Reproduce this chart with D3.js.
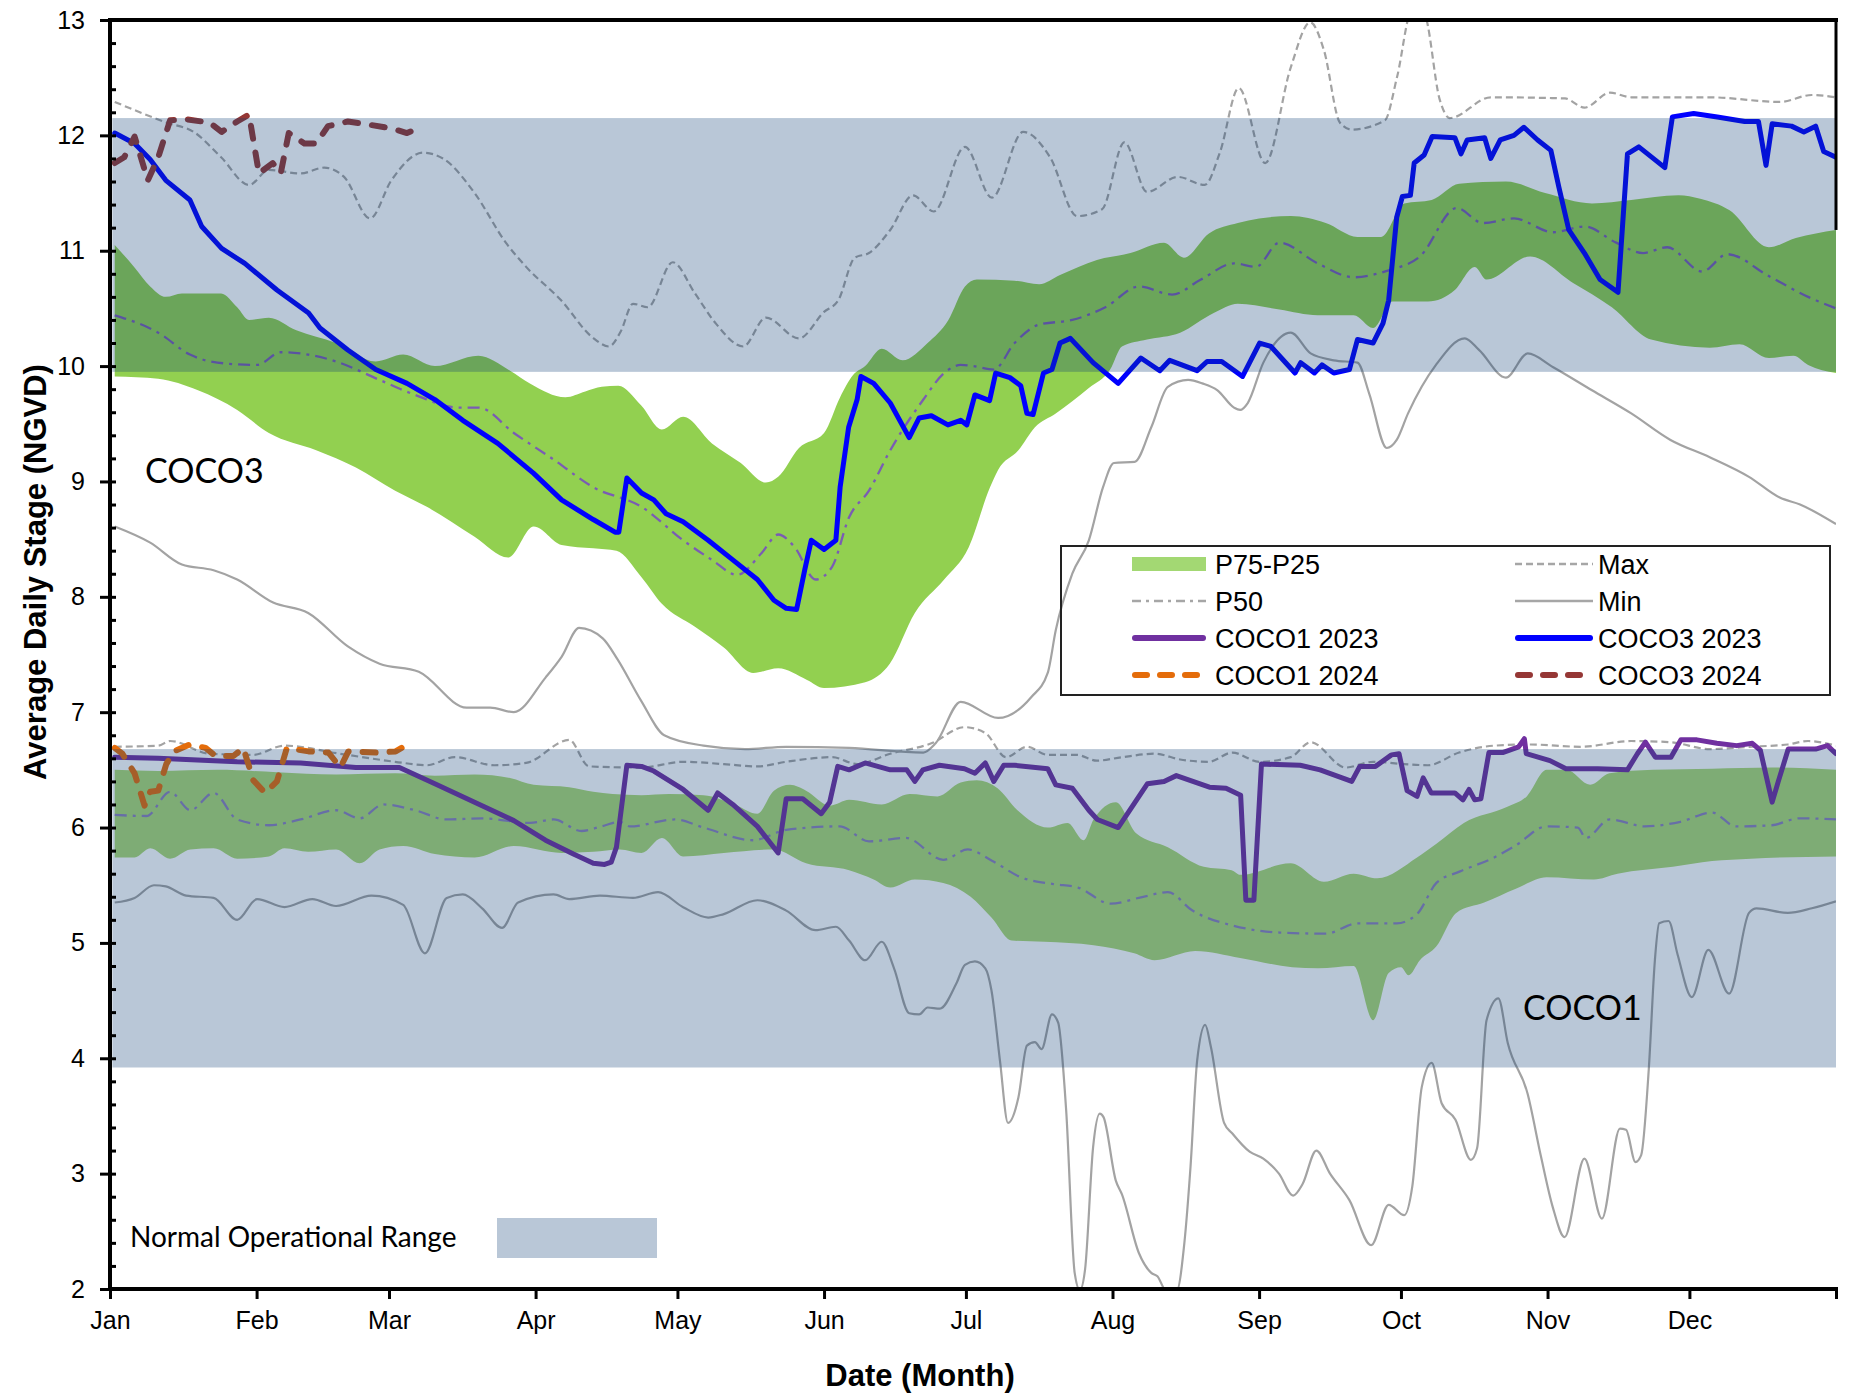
<!DOCTYPE html>
<html>
<head>
<meta charset="utf-8">
<script src="https://cdn.jsdelivr.net/npm/d3@7"></script>
<style>
  html, body { margin: 0; padding: 0; background: #fff; }
  svg { display: block; }
  text { font-family: "Liberation Sans", Arial, sans-serif; fill: #000; }
</style>
</head>
<body>
<svg id="chart" width="1854" height="1396"></svg>
<script>
// month ticks (day of year) and labels
var monthStarts = [0, 31, 59, 90, 120, 151, 181, 212, 243, 273, 304, 334, 365];
var monthNames = ["Jan", "Feb", "Mar", "Apr", "May", "Jun", "Jul", "Aug", "Sep", "Oct", "Nov", "Dec"];
var yTicks = [2, 3, 4, 5, 6, 7, 8, 9, 10, 11, 12, 13];

// normal operational ranges [low, high]
var coco3Range = [9.95, 12.15];
var coco1Range = [3.92, 6.68];

// COCO3 statistics, [day, stage]
var coco3Max = [[1,12.29],[12,12.11],[17.7,12.03],[23.5,11.81],[29.4,11.57],[33.6,11.70],[40.3,11.67],[45.3,11.72],[49.5,11.64],[55,11.28],[59.5,11.61],[66.2,11.85],[70.4,11.80],[77.1,11.50],[83.7,11.07],[88,10.86],[95.4,10.57],[102,10.25],[105.5,10.17],[108,10.30],[110.6,10.54],[113.7,10.51],[119,10.90],[123.7,10.63],[128.1,10.37],[133.9,10.17],[138.7,10.42],[145.7,10.24],[151,10.47],[154,10.57],[157.5,10.94],[160.5,10.98],[165,11.18],[169.8,11.48],[174.2,11.34],[180.8,11.90],[186.5,11.46],[193.1,12.03],[198.8,11.81],[204.5,11.30],[209.8,11.36],[214.5,11.94],[219.3,11.51],[225.8,11.64],[231.5,11.57],[234.7,11.85],[238.7,12.41],[244.3,11.76],[249.7,12.59],[253.8,12.98],[256.7,12.74],[260.1,12.11],[262.6,12.05],[269.6,12.13],[272.2,12.51],[275.3,13.08],[277.9,13.05],[281.2,12.31],[283.3,12.15],[292,12.33],[307.7,12.32],[311.8,12.24],[317.2,12.37],[321.7,12.33],[338.3,12.33],[353.1,12.29],[359.9,12.35],[365,12.33]];
var coco3Min = [[1,8.61],[8.5,8.47],[15.2,8.28],[21.9,8.23],[26.9,8.15],[34.5,7.95],[41.9,7.86],[50.3,7.57],[57,7.42],[65.3,7.35],[75.4,7.04],[80.4,7.04],[85.4,7.00],[92.1,7.30],[95.5,7.48],[99.2,7.73],[104.2,7.64],[107.3,7.46],[112.3,7.10],[117.2,6.80],[125.5,6.71],[134.3,6.68],[143,6.70],[156.3,6.69],[172,6.65],[174.6,6.73],[179.9,7.09],[187.8,6.95],[194.8,7.13],[198.3,7.34],[200,7.71],[203.5,8.20],[207,8.49],[210,8.95],[212.3,9.16],[216.7,9.17],[220.2,9.47],[223.7,9.82],[228,9.88],[231,9.85],[234.2,9.79],[237.7,9.64],[239,9.62],[240.6,9.68],[243.9,10.03],[249.7,10.29],[253.9,10.11],[258.8,10.05],[263.8,10.03],[266.3,9.76],[270,9.29],[272.1,9.36],[274.5,9.59],[280.4,10.01],[286.5,10.24],[289.5,10.14],[295.2,9.90],[299.8,10.11],[305.2,9.99],[313.4,9.79],[321.7,9.59],[330,9.36],[338.3,9.21],[346.6,9.04],[353.1,8.86],[357.4,8.80],[365,8.63]];
var coco3P75 = [[1,11.05],[5.1,10.86],[8.5,10.69],[11.8,10.60],[15.2,10.63],[23.5,10.63],[26.9,10.51],[29.4,10.40],[33.6,10.42],[39.4,10.31],[47.8,10.20],[56.2,10.04],[62,10.10],[68.7,10.00],[77.9,10.09],[84.6,9.96],[88.8,9.85],[96.3,9.73],[100.5,9.78],[104,9.82],[107.5,9.83],[112.3,9.66],[116.7,9.45],[121.2,9.56],[127.3,9.33],[133.4,9.16],[138.7,8.99],[141.3,9.04],[145.7,9.29],[151,9.42],[154.4,9.73],[157.1,9.92],[159.7,10.00],[163.2,10.15],[167.6,10.05],[172.9,10.20],[177.3,10.40],[180.8,10.69],[183.3,10.75],[191.3,10.74],[196.5,10.71],[200.9,10.79],[208.7,10.92],[215.8,10.98],[222.9,11.07],[227.1,10.94],[232.4,11.15],[238.5,11.24],[243,11.28],[249.7,11.30],[257.1,11.24],[263.8,11.12],[268.8,11.12],[273.7,11.41],[279.5,11.44],[285.3,11.58],[295.2,11.60],[303.5,11.50],[313.4,11.41],[321.7,11.44],[331.7,11.48],[336.3,11.45],[342.5,11.35],[350.8,11.03],[356.5,11.11],[365,11.18]];
var coco3P25 = [[1,9.91],[10.2,9.89],[18.6,9.79],[26.9,9.62],[33.6,9.42],[43.6,9.27],[52,9.12],[60.3,8.92],[67,8.78],[77.1,8.52],[84.2,8.34],[89.6,8.61],[95.5,8.45],[102.2,8.42],[107.1,8.40],[112.4,8.17],[116.7,7.94],[123.7,7.74],[129.8,7.56],[136,7.34],[141.3,7.38],[147.4,7.28],[151,7.21],[159.7,7.26],[164.9,7.42],[170.2,7.86],[176.4,8.15],[181.6,8.43],[186.1,8.95],[187.8,9.10],[192.1,9.27],[195.6,9.47],[200,9.59],[207,9.81],[211.5,9.97],[214,10.17],[219.3,10.23],[226.3,10.29],[233.4,10.46],[238.5,10.54],[247.3,10.49],[255.4,10.44],[263,10.44],[267.1,10.33],[271.2,10.56],[278.7,10.56],[284.4,10.66],[288.6,10.86],[291.1,10.75],[300.3,10.95],[309.4,10.72],[317.6,10.51],[325.9,10.23],[338.3,10.16],[344.6,10.19],[350.8,10.07],[356,10.09],[359.1,10.01],[365,9.94]];
var coco3P50 = [[1,10.44],[10.2,10.29],[16.9,10.10],[22.7,10.03],[31.1,10.01],[36.1,10.12],[41.9,10.10],[47.8,10.04],[57,9.88],[64.5,9.75],[73.7,9.64],[78,9.64],[85.4,9.42],[93.8,9.19],[102.2,8.95],[112.4,8.78],[121.2,8.49],[127.3,8.32],[132.6,8.19],[137.8,8.38],[141.3,8.54],[144.8,8.43],[149.2,8.15],[152.7,8.26],[156.3,8.69],[160.5,8.92],[165,9.27],[172,9.71],[176.4,9.94],[179.9,10.01],[182.5,10.00],[186.9,9.97],[191.3,10.20],[196.5,10.36],[203.5,10.40],[210.5,10.51],[217.6,10.69],[224.6,10.62],[230.7,10.75],[237.7,10.89],[242.3,10.86],[247.3,11.07],[255.4,10.89],[263,10.77],[270.4,10.83],[277,10.95],[284.8,11.37],[290.3,11.24],[296.9,11.28],[305.2,11.16],[311.8,11.21],[318.5,11.07],[324.2,10.98],[329.3,11.03],[336.7,10.82],[342,10.97],[350.8,10.78],[359.1,10.60],[365,10.50]];

// COCO1 statistics
var coco1Max = [[1,6.70],[10.2,6.71],[12.7,6.75],[21.1,6.64],[30.2,6.63],[36.9,6.71],[48.6,6.64],[60.3,6.57],[67,6.54],[72.9,6.61],[81.3,6.54],[88,6.56],[97.1,6.76],[101.3,6.53],[112.4,6.52],[121.2,6.57],[129.8,6.55],[136.9,6.53],[143,6.57],[152.7,6.61],[158,6.55],[165,6.64],[173.7,6.73],[180.7,6.87],[185.1,6.82],[189.5,6.61],[193.9,6.70],[198.3,6.63],[204.4,6.63],[208.7,6.58],[214,6.61],[221,6.64],[226.3,6.59],[232.4,6.57],[237.3,6.65],[243.1,6.57],[249.7,6.61],[253.9,6.74],[261.3,6.52],[267.1,6.57],[273.7,6.55],[278.7,6.54],[285.3,6.65],[292.8,6.71],[300.3,6.72],[311,6.70],[321.7,6.75],[330,6.74],[338.3,6.68],[346.6,6.70],[354.8,6.72],[359.1,6.75],[365,6.71]];
var coco1Min = [[1,5.35],[5.2,5.39],[9.3,5.50],[11.8,5.49],[16.1,5.41],[21.9,5.39],[26.9,5.20],[31.1,5.38],[36.9,5.31],[42.8,5.38],[47.8,5.32],[55.3,5.41],[62,5.33],[66.6,4.91],[71.2,5.39],[74.6,5.42],[78.7,5.30],[82.9,5.13],[86.3,5.35],[93.8,5.42],[97.1,5.38],[103.6,5.41],[110.6,5.39],[115.9,5.44],[121.2,5.31],[126.5,5.22],[129.8,5.25],[136.9,5.37],[143,5.28],[149.2,5.11],[153.5,5.14],[156.3,5.02],[159.7,4.85],[163.2,5.01],[165.8,4.78],[169,4.39],[171.1,4.38],[172.9,4.44],[175.5,4.43],[179,4.65],[180.8,4.81],[182.9,4.84],[185.1,4.78],[186.4,4.59],[188.2,3.98],[189.9,3.44],[192.1,3.66],[193.9,4.11],[195.6,4.14],[197,4.08],[199.2,4.38],[200.5,4.31],[202.2,3.55],[204,2.14],[205.1,1.99],[206.2,2.17],[207.9,3.23],[209.3,3.52],[210.1,3.49],[212.7,2.94],[214,2.82],[217.6,2.31],[220.2,2.14],[221.5,2.11],[223.3,1.99],[225.6,1.99],[227.2,2.40],[228.5,3.06],[229.9,3.98],[231.6,4.29],[232.8,4.10],[235.6,3.44],[237.3,3.35],[241,3.19],[243.9,3.13],[247.2,3.00],[250.2,2.81],[252.2,2.91],[255.1,3.20],[258,3.00],[262.1,2.77],[266.7,2.38],[270.4,2.73],[273.7,2.64],[275.4,2.89],[277.4,3.75],[279.5,3.96],[281.6,3.61],[284.5,3.47],[287.8,3.12],[289.1,3.22],[291.1,4.33],[293.6,4.52],[295.6,4.13],[299.8,3.69],[302.6,3.15],[305.1,2.71],[307.6,2.45],[311.8,3.13],[315.5,2.61],[319.3,3.39],[320.6,3.38],[322.6,3.10],[323.8,3.16],[325.4,3.90],[326.7,4.85],[327.6,5.17],[329.6,5.19],[331.5,4.90],[334.5,4.53],[338,4.94],[342.4,4.56],[346.6,5.26],[348.2,5.30],[354.8,5.26],[359.9,5.30],[365,5.36]];
var coco1P75 = [[1,6.50],[10.2,6.49],[22.7,6.50],[35.3,6.48],[47.8,6.46],[60.3,6.47],[68.7,6.45],[77.1,6.46],[84.6,6.43],[89.6,6.37],[97.1,6.35],[102.2,6.31],[106.3,6.29],[112.4,6.28],[118.2,6.29],[125.5,6.28],[132.6,6.19],[136.9,6.12],[140.4,6.32],[143.8,6.37],[147.2,6.32],[152.3,6.19],[156.3,6.24],[163.2,6.20],[169.1,6.29],[175,6.27],[179.9,6.39],[183.3,6.41],[187.7,6.34],[191.9,6.15],[198.3,6.00],[202.5,6.04],[205.9,5.89],[208,6.07],[212.7,6.22],[217,5.95],[223.7,5.83],[231.3,5.66],[237.2,5.63],[239,5.59],[249.7,5.69],[256.7,5.53],[263,5.60],[268,5.56],[276.4,5.74],[280.5,5.86],[286.3,6.04],[295.5,6.18],[299.6,6.27],[303.8,6.50],[308,6.50],[313,6.37],[317.1,6.47],[326.3,6.50],[338.8,6.51],[351.4,6.52],[365,6.50]];
var coco1P25 = [[1,5.74],[5.2,5.74],[8.5,5.82],[12.7,5.73],[17,5.81],[21.9,5.82],[26.9,5.73],[33.6,5.75],[36.9,5.82],[41.9,5.79],[47.8,5.81],[52.8,5.69],[57,5.81],[62,5.84],[68.7,5.77],[77.1,5.74],[85.4,5.84],[95.5,5.78],[102.2,5.79],[107.8,5.81],[112.4,5.78],[116.7,5.91],[121.2,5.75],[129.8,5.78],[140.4,5.81],[147.2,5.69],[156.3,5.63],[161.5,5.55],[165,5.48],[170.2,5.55],[176.2,5.52],[182,5.40],[186.4,5.22],[190.7,5.02],[197.6,5.01],[208,4.98],[216.6,4.91],[220.9,4.85],[229.5,4.93],[239,4.87],[250,4.79],[255.5,4.78],[263,4.80],[267.1,4.33],[270.4,4.74],[273,4.79],[274.6,4.72],[277,4.85],[280.5,4.97],[284.7,5.26],[290.6,5.35],[297.3,5.47],[303.8,5.57],[313.8,5.55],[318.8,5.60],[330.5,5.66],[338.8,5.71],[347,5.73],[365,5.75]];
var coco1P50 = [[1,6.11],[7.7,6.10],[12.7,6.31],[17,6.15],[21.9,6.30],[26.9,6.07],[33.6,6.02],[40.3,6.07],[47.8,6.15],[52.8,6.08],[57.8,6.20],[64.5,6.15],[71.2,6.07],[78.7,6.08],[88.8,6.04],[93.8,6.07],[99.7,5.97],[103.9,6.01],[107.8,6.05],[109.9,6.01],[119.5,6.07],[125.5,6.00],[136,5.89],[143,5.98],[154.3,6.01],[160.5,5.88],[168.3,5.91],[176.2,5.72],[181.4,5.81],[186.6,5.71],[192.6,5.57],[199.5,5.51],[204.7,5.48],[211.6,5.34],[218.5,5.40],[223.7,5.44],[228.9,5.28],[237.5,5.15],[247.3,5.09],[257.1,5.08],[263.8,5.17],[272.1,5.17],[276.4,5.25],[280.5,5.52],[285.5,5.62],[292.2,5.73],[297.1,5.84],[303.8,6.01],[310.4,6.00],[312.1,5.91],[317.1,6.07],[324.6,6.01],[332.1,6.05],[338.8,6.13],[343.8,6.01],[351.4,6.02],[357.2,6.08],[365,6.07]];

// observed daily stages
var coco3Obs2023 = [[1,12.02],[5.2,11.93],[8.5,11.79],[11.8,11.61],[16.9,11.44],[19.4,11.21],[23.6,11.02],[28.5,10.89],[35.3,10.66],[42,10.46],[44.4,10.33],[50.3,10.14],[56.2,9.97],[62.8,9.85],[68.7,9.71],[74.6,9.53],[82,9.33],[89.6,9.07],[95.5,8.84],[102.2,8.67],[106.8,8.56],[107.6,8.56],[109.3,9.03],[112.4,8.90],[115,8.84],[117.6,8.72],[121.2,8.65],[126.5,8.49],[131.7,8.32],[136.9,8.15],[140.4,7.97],[143,7.90],[145.2,7.89],[146.9,8.23],[148.3,8.49],[151,8.41],[153.5,8.49],[154.4,8.95],[156.2,9.47],[158,9.71],[158.8,9.91],[161.5,9.85],[165,9.68],[169,9.38],[171.1,9.55],[173.7,9.57],[177.2,9.49],[179.9,9.53],[181.2,9.49],[182.9,9.75],[186,9.70],[187.3,9.94],[190.3,9.90],[192.6,9.83],[193.9,9.59],[195.2,9.58],[197.4,9.94],[199.2,9.97],[200.9,10.20],[203.1,10.24],[207.9,10.03],[213.2,9.85],[215.8,9.97],[218,10.07],[222,9.96],[224.1,10.05],[229.9,9.96],[232,10.04],[235.1,10.04],[239.5,9.91],[243.1,10.20],[245.5,10.17],[250.6,9.94],[251.8,10.03],[254.7,9.94],[256.3,10.01],[258.8,9.94],[262.1,9.97],[263.8,10.23],[267.1,10.20],[269.2,10.37],[270.4,10.57],[272.1,11.29],[273.3,11.47],[275,11.48],[275.8,11.76],[277.9,11.83],[279.6,11.99],[284.4,11.98],[285.7,11.84],[287,11.96],[290.7,11.98],[292,11.80],[294,11.96],[296.9,12.00],[299,12.07],[301.9,11.96],[304.7,11.87],[306.4,11.55],[308.5,11.18],[311.8,10.98],[315.1,10.75],[318.9,10.64],[320.9,11.84],[323.3,11.90],[328.8,11.72],[330.4,12.16],[334.9,12.19],[339.9,12.16],[345.7,12.12],[348.6,12.12],[350.2,11.74],[351.5,12.10],[355.6,12.08],[358.2,12.03],[360.7,12.08],[362.4,11.86],[365,11.81]];
var coco3Obs2024 = [[1,11.76],[3,11.81],[5.2,11.99],[8,11.61],[10.2,11.81],[12.7,12.13],[16.1,12.14],[21.1,12.11],[23.6,12.03],[26.9,12.12],[29.4,12.18],[31.5,11.67],[34.4,11.76],[36.1,11.67],[37.8,12.02],[41.1,11.93],[43.6,11.93],[46.1,12.08],[50.3,12.12],[53.7,12.10],[59.5,12.06],[62.8,12.02],[64.5,12.05]];
var coco1Obs2023 = [[1,6.61],[10.2,6.60],[26.9,6.57],[40.3,6.56],[52,6.52],[61.2,6.52],[68.7,6.38],[77.1,6.22],[85.4,6.06],[92.1,5.89],[98,5.77],[102.2,5.69],[104.6,5.68],[106,5.70],[107.1,5.83],[109.3,6.54],[112.4,6.53],[115,6.49],[121.2,6.33],[126.5,6.15],[128.5,6.30],[131.7,6.20],[136.9,6.01],[141.3,5.78],[143,6.25],[146.5,6.25],[150.4,6.12],[152.2,6.22],[153.9,6.53],[156.3,6.50],[159.7,6.56],[165,6.50],[168.5,6.50],[170.2,6.40],[171.9,6.50],[175.4,6.54],[180.7,6.51],[182.9,6.47],[185.1,6.56],[186.9,6.40],[189,6.54],[191.3,6.54],[198.3,6.51],[200,6.37],[203.5,6.34],[207,6.15],[208.8,6.07],[213.2,6.00],[217.6,6.27],[219.4,6.38],[222.9,6.40],[225.5,6.45],[229,6.40],[232.5,6.35],[236,6.34],[239.1,6.28],[240.2,5.37],[241.9,5.37],[243.5,6.55],[251.7,6.54],[255.9,6.50],[262.6,6.40],[264.3,6.53],[267.6,6.53],[271,6.63],[272.6,6.64],[274.3,6.32],[276.4,6.27],[277.7,6.43],[279.4,6.30],[284.4,6.30],[286.1,6.24],[287.4,6.33],[288.6,6.24],[289.9,6.25],[291.6,6.65],[294.5,6.65],[297.9,6.70],[299.1,6.77],[299.5,6.64],[304.5,6.58],[307.9,6.51],[314.6,6.51],[320.9,6.50],[323,6.64],[324.7,6.74],[326.8,6.61],[330.1,6.61],[332.2,6.76],[335.6,6.76],[339.8,6.73],[344,6.71],[347.3,6.73],[349,6.67],[351.5,6.22],[352.8,6.40],[354.9,6.68],[360.7,6.68],[363.2,6.71],[365,6.64]];
var coco1Obs2024 = [[1,6.69],[2.6,6.64],[5.2,6.47],[7.3,6.19],[8.5,6.31],[10.2,6.32],[11.9,6.55],[13.5,6.66],[16.9,6.72],[20.2,6.69],[22.3,6.62],[26.1,6.62],[28.2,6.69],[30.3,6.41],[32.8,6.30],[35.3,6.40],[37.4,6.69],[42,6.66],[46.2,6.65],[48.7,6.52],[50.4,6.66],[56.2,6.65],[60.4,6.66],[62.9,6.72]];

var svg = d3.select("#chart");
var plotLeft = 110, plotRight = 1836, plotTop = 20, plotBottom = 1289;

var x = d3.scaleLinear().domain([0, 365]).range([plotLeft, plotRight]);
var y = d3.scaleLinear().domain([2, 13]).range([plotBottom, plotTop]);

svg.append("defs").append("clipPath").attr("id", "plotclip")
  .append("rect").attr("x", plotLeft).attr("y", plotTop)
  .attr("width", plotRight - plotLeft).attr("height", plotBottom - plotTop);

var plot = svg.append("g").attr("clip-path", "url(#plotclip)");

var line = d3.line().x(function(d) { return x(d[0]); }).y(function(d) { return y(d[1]); });
var smooth = d3.line().curve(d3.curveMonotoneX)
  .x(function(d) { return x(d[0]); }).y(function(d) { return y(d[1]); });

// closed band: smoothed upper edge, then smoothed lower edge run backwards
function band(hi, lo) {
  var back = smooth(lo.slice().reverse());
  return smooth(hi) + "L" + back.slice(1) + "Z";
}

// P75-P25 bands
plot.append("path").attr("d", band(coco3P75, coco3P25)).attr("fill", "#92D050");
plot.append("path").attr("d", band(coco1P75, coco1P25)).attr("fill", "#ADDA75");

// statistic lines
function statLine(data, color, w, dash) {
  plot.append("path").attr("d", smooth(data))
    .attr("fill", "none").attr("stroke", color).attr("stroke-width", w)
    .attr("stroke-dasharray", dash);
}
statLine(coco3Max, "#A3A3A3", 2.2, "7,4");
statLine(coco1Max, "#A3A3A3", 2.2, "7,4");
statLine(coco3Min, "#A3A3A3", 2.2, null);
statLine(coco1Min, "#A3A3A3", 2.2, null);
statLine(coco3P50, "#7A5CB4", 2.3, "12,6,3,6");
statLine(coco1P50, "#8C82BC", 2.3, "12,6,3,6");

// observed lines
function obsLine(data, color, w, dash) {
  plot.append("path").attr("d", line(data))
    .attr("fill", "none").attr("stroke", color).attr("stroke-width", w)
    .attr("stroke-linejoin", "round").attr("stroke-linecap", "round")
    .attr("stroke-dasharray", dash);
}
obsLine(coco1Obs2023, "#7030A0", 5, null);
obsLine(coco3Obs2023, "#0000FF", 5, null);
obsLine(coco1Obs2024, "#E46C0A", 6, "13,14");
obsLine(coco3Obs2024, "#953735", 6, "13,14");

// normal operational range overlays (translucent)
var overlay = "rgb(14,62,117)", overlayOpacity = 0.29;
[coco3Range, coco1Range].forEach(function(r) {
  plot.append("rect")
    .attr("x", x(0.5)).attr("width", x(365) - x(0.5))
    .attr("y", y(r[1])).attr("height", y(r[0]) - y(r[1]))
    .attr("fill", overlay).attr("fill-opacity", overlayOpacity);
});

// axes
var yMajor = svg.append("g").attr("transform", "translate(" + plotLeft + ",0)")
  .call(d3.axisLeft(y).tickValues(yTicks).tickSize(10).tickPadding(15));
yMajor.selectAll("text").style("font-size", "25px").style("font-family", "'Liberation Sans', Arial, sans-serif");

var minorVals = d3.range(2, 13.001, 0.2);
var yMinor = svg.append("g").attr("transform", "translate(" + plotLeft + ",0)")
  .call(d3.axisLeft(y).tickValues(minorVals).tickSize(-6).tickFormat(""));

var xAxis = svg.append("g").attr("transform", "translate(0," + plotBottom + ")")
  .call(d3.axisBottom(x).tickValues(monthStarts).tickSize(10).tickPadding(12)
    .tickFormat(function(d, i) { return monthNames[i] || ""; }));
xAxis.selectAll("text").style("font-size", "25px").style("font-family", "'Liberation Sans', Arial, sans-serif");

[yMajor, yMinor, xAxis].forEach(function(g) {
  g.select(".domain").remove();
  g.selectAll(".tick line").attr("stroke", "#000").attr("stroke-width", 3);
});

// frame
svg.append("line").attr("x1", plotLeft).attr("x2", plotLeft).attr("y1", plotTop - 2).attr("y2", plotBottom + 2)
  .attr("stroke", "#000").attr("stroke-width", 4);
svg.append("line").attr("x1", plotLeft - 2).attr("x2", plotRight + 2).attr("y1", plotBottom).attr("y2", plotBottom)
  .attr("stroke", "#000").attr("stroke-width", 4);
svg.append("line").attr("x1", plotLeft - 2).attr("x2", plotRight + 2).attr("y1", plotTop).attr("y2", plotTop)
  .attr("stroke", "#000").attr("stroke-width", 4);
svg.append("line").attr("x1", plotRight).attr("x2", plotRight).attr("y1", plotTop).attr("y2", y(11.18))
  .attr("stroke", "#000").attr("stroke-width", 3);

// axis titles
svg.append("text").attr("x", 920).attr("y", 1386).attr("text-anchor", "middle")
  .style("font-size", "31px").style("font-weight", "bold").text("Date (Month)");
svg.append("text").attr("transform", "translate(46,572) rotate(-90)").attr("text-anchor", "middle")
  .style("font-size", "31px").style("font-weight", "bold").text("Average Daily Stage (NGVD)");

// in-plot labels
svg.append("text").attr("x", 145).attr("y", 483).style("font-family", "Lato, 'Open Sans', sans-serif")
  .style("font-size", "34px").text("COCO3");
svg.append("text").attr("x", 1523).attr("y", 1020).style("font-family", "Lato, 'Open Sans', sans-serif")
  .style("font-size", "34px").text("COCO1");
svg.append("text").attr("x", 130).attr("y", 1247).style("font-family", "Lato, 'Open Sans', sans-serif")
  .style("font-size", "28px").text("Normal Operational Range");
svg.append("rect").attr("x", 497).attr("y", 1218).attr("width", 160).attr("height", 40)
  .attr("fill", overlay).attr("fill-opacity", overlayOpacity);

// legend
var legend = svg.append("g");
legend.append("rect").attr("x", 1061).attr("y", 546).attr("width", 769).attr("height", 149)
  .attr("fill", "none").attr("stroke", "#222").attr("stroke-width", 2);

var legendItems = [
  { label: "P75-P25", col: 0, row: 0, type: "fill", color: "#A3D873" },
  { label: "P50", col: 0, row: 1, type: "line", color: "#A6A6A6", w: 2.5, dash: "9,5,3,5" },
  { label: "COCO1 2023", col: 0, row: 2, type: "line", color: "#7030A0", w: 6 },
  { label: "COCO1 2024", col: 0, row: 3, type: "line", color: "#E46C0A", w: 6, dash: "12,13" },
  { label: "Max", col: 1, row: 0, type: "line", color: "#A6A6A6", w: 2.5, dash: "7,4" },
  { label: "Min", col: 1, row: 1, type: "line", color: "#A6A6A6", w: 2.5 },
  { label: "COCO3 2023", col: 1, row: 2, type: "line", color: "#0000FF", w: 6 },
  { label: "COCO3 2024", col: 1, row: 3, type: "line", color: "#953735", w: 6, dash: "12,13" }
];
var colX = [[1132, 1206, 1215], [1515, 1593, 1598]];
var rowY = [564, 601, 638, 675];

legendItems.forEach(function(it) {
  var cx = colX[it.col], cy = rowY[it.row];
  if (it.type === "fill") {
    legend.append("rect").attr("x", cx[0]).attr("y", cy - 7).attr("width", cx[1] - cx[0]).attr("height", 14)
      .attr("fill", it.color);
  } else {
    legend.append("line").attr("x1", cx[0] + (it.w > 4 ? 3 : 0)).attr("x2", cx[1] - (it.w > 4 ? 3 : 0))
      .attr("y1", cy).attr("y2", cy)
      .attr("stroke", it.color).attr("stroke-width", it.w)
      .attr("stroke-linecap", it.w > 4 ? "round" : "butt")
      .attr("stroke-dasharray", it.dash || null);
  }
  legend.append("text").attr("x", cx[2]).attr("y", cy + 9.5)
    .style("font-size", "27px").text(it.label);
});
</script>
</body>
</html>
